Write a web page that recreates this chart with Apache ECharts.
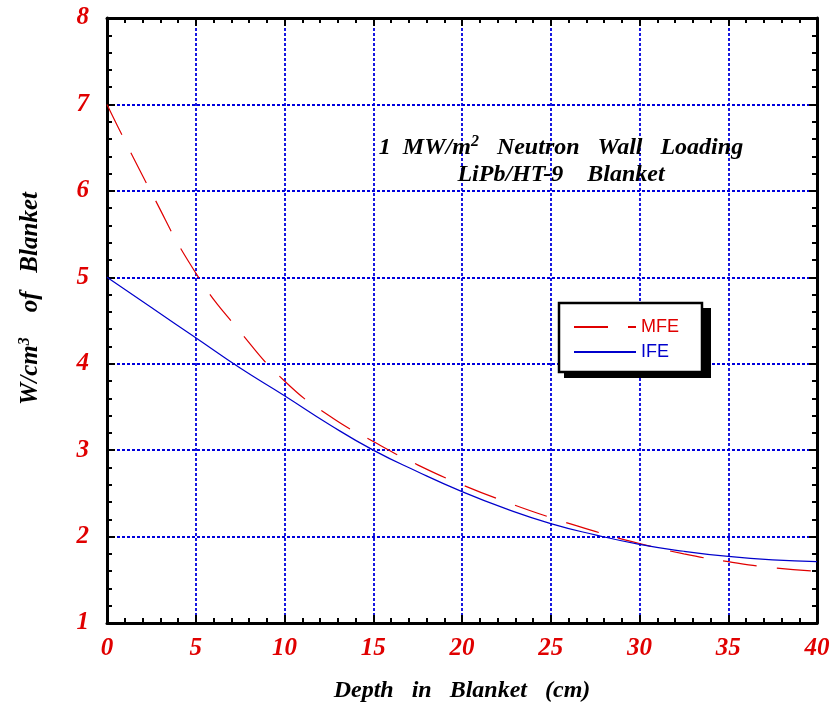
<!DOCTYPE html>
<html>
<head>
<meta charset="utf-8">
<script src="https://cdn.jsdelivr.net/npm/echarts@6/dist/echarts.min.js"></script>
<style>
  html, body { margin: 0; padding: 0; background: #fff; }
  #main { width: 836px; height: 712px; }
</style>
</head>
<body>
<div id="main"></div>
<script>
// depth in blanket (cm)
var depth = [0, 2.5, 5, 7.5, 10, 12.5, 15, 17.5, 20, 22.5, 25, 27.5, 30, 32.5, 35, 37.5, 40];
// power density W/cm3
var mfe = [7.0, 5.98, 5.05, 4.37, 3.8, 3.4, 3.1, 2.83, 2.6, 2.4, 2.22, 2.06, 1.92, 1.8, 1.71, 1.64, 1.6];
var ife = [5.0, 4.65, 4.3, 3.95, 3.63, 3.3, 3.0, 2.75, 2.52, 2.32, 2.15, 2.02, 1.91, 1.83, 1.77, 1.73, 1.71];

function pairs(xs, ys) {
  return xs.map(function (x, i) { return [x, ys[i]]; });
}

var serif = "'Liberation Serif', 'Times New Roman', serif";
var labelStyle = { color: '#e00000', fontFamily: serif, fontStyle: 'italic', fontWeight: 'bold', fontSize: 25 };
var gridLine = { show: true, lineStyle: { color: '#0000dd', width: 1.8, type: [3, 2] } };
var axLine = { show: true, onZero: false, lineStyle: { color: '#000', width: 3 } };
var tick = { show: true, inside: true, length: 8, lineStyle: { color: '#000', width: 2 } };
var minor = { show: true, splitNumber: 5, length: 5, lineStyle: { color: '#000', width: 2 } };
var supStyle = { fontFamily: serif, fontStyle: 'italic', fontWeight: 'bold', fontSize: 16, verticalAlign: 'top', padding: [0, 0, 12, 0] };

var chart = echarts.init(document.getElementById('main'));
chart.setOption({
  animation: false,
  grid: { left: 107, right: 19, top: 18, bottom: 89 },
  title: {
    text: '1  MW/m{sup|2}   Neutron   Wall   Loading\nLiPb/HT-9    Blanket',
    left: 556, top: 129, textAlign: 'center',
    textStyle: {
      fontFamily: serif, fontStyle: 'italic', fontWeight: 'bold', fontSize: 24, color: '#000', lineHeight: 27,
      rich: { sup: supStyle }
    }
  },
  graphic: [{
    type: 'rect', z: 3, silent: true,
    shape: { x: 564, y: 308, width: 147, height: 70 },
    style: { fill: '#000' }
  }],
  legend: {
    orient: 'vertical', left: 559, top: 303, z: 4,
    padding: [15, 23, 11, 14], itemGap: 7, itemWidth: 62, itemHeight: 14,
    backgroundColor: '#fff', borderColor: '#000', borderWidth: 2.5,
    itemStyle: { opacity: 0 },
    textStyle: { fontFamily: "'Liberation Sans', Arial, sans-serif", fontSize: 18, padding: [0, 0, 0, 0] },
    data: [
      { name: 'MFE', textStyle: { color: '#e00000' } },
      { name: 'IFE', textStyle: { color: '#0000cc' } }
    ]
  },
  xAxis: [{
    type: 'value', min: 0, max: 40, interval: 5,
    name: 'Depth   in   Blanket   (cm)', nameLocation: 'middle', nameGap: 56,
    nameTextStyle: { fontFamily: serif, fontStyle: 'italic', fontWeight: 'bold', fontSize: 24, color: '#000' },
    axisLine: axLine, axisTick: tick, minorTick: minor, splitLine: gridLine,
    axisLabel: Object.assign({ margin: 13 }, labelStyle)
  }, {
    type: 'value', min: 0, max: 40, interval: 5, position: 'top',
    axisLine: axLine, axisTick: tick, minorTick: minor, splitLine: { show: false }, axisLabel: { show: false }
  }],
  yAxis: [{
    type: 'value', min: 1, max: 8, interval: 1,
    name: 'W/cm{sup|3}    of   Blanket', nameLocation: 'middle', nameGap: 62, nameRotate: 90,
    nameTextStyle: {
      fontFamily: serif, fontStyle: 'italic', fontWeight: 'bold', fontSize: 25, color: '#000',
      padding: [0, 0, 0, 44],
      rich: { sup: supStyle }
    },
    axisLine: axLine, axisTick: tick, minorTick: minor, splitLine: gridLine,
    axisLabel: Object.assign({ margin: 18 }, labelStyle)
  }, {
    type: 'value', min: 1, max: 8, interval: 1, position: 'right',
    axisLine: axLine, axisTick: tick, minorTick: minor, splitLine: { show: false }, axisLabel: { show: false }
  }],
  series: [{
    name: 'MFE', type: 'line', smooth: true, symbol: 'none',
    data: pairs(depth, mfe),
    lineStyle: { color: '#e00000', width: 1.2, type: [34, 20] },
    itemStyle: { color: '#e00000' }
  }, {
    name: 'IFE', type: 'line', smooth: true, symbol: 'none',
    data: pairs(depth, ife),
    lineStyle: { color: '#0000cc', width: 1.2 },
    itemStyle: { color: '#0000cc' }
  }]
});
</script>
</body>
</html>
